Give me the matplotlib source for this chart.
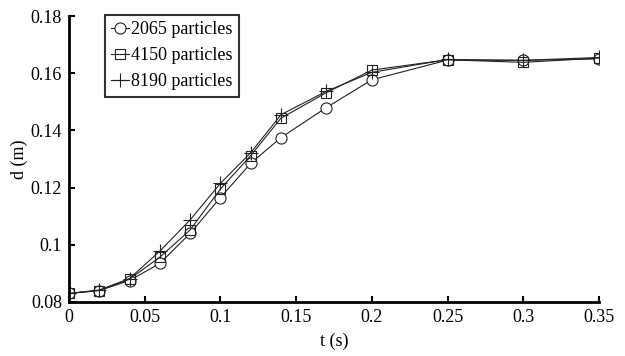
import matplotlib
matplotlib.use('Agg')
import matplotlib.pyplot as plt

t = [0, 0.02, 0.04, 0.06, 0.08, 0.1, 0.12, 0.14, 0.17, 0.2, 0.25, 0.3, 0.35]
d_2065 = [0.083, 0.084, 0.0875, 0.0935, 0.104, 0.1165, 0.1285, 0.1375, 0.148, 0.1577, 0.1646, 0.1645, 0.165]
d_4150 = [0.083, 0.084, 0.088, 0.0957, 0.1052, 0.1195, 0.1312, 0.1443, 0.1532, 0.1611, 0.1647, 0.1638, 0.1653]
d_8190 = [0.083, 0.0842, 0.0882, 0.0978, 0.1087, 0.1215, 0.1322, 0.1455, 0.1537, 0.1603, 0.1648, 0.1645, 0.1655]
labels = ['2065 particles', '4150 particles', '8190 particles']
xticks = [0, 0.05, 0.1, 0.15, 0.2, 0.25, 0.3, 0.35]
yticks = [0.08, 0.1, 0.12, 0.14, 0.16, 0.18]

plt.rcParams['font.family'] = ['Liberation Serif', 'DejaVu Serif']
plt.rcParams['font.size'] = 13

fig = plt.figure(figsize=(6.25, 3.56), dpi=100)
ax = fig.add_axes([0.1104, 0.1517, 0.848, 0.8033])

ax.plot(t, d_2065, '-', color='#222222', lw=0.8, marker='o', ms=8,
        mfc='white', mec='#222222', mew=0.8, label=labels[0])
ax.plot(t, d_4150, '-', color='#222222', lw=0.8, marker='s', ms=7,
        mfc='none', mec='#222222', mew=0.8, label=labels[1])
ax.plot(t, d_8190, '-', color='#222222', lw=0.8, marker='+', ms=10,
        mec='#222222', mew=0.8, label=labels[2])

ax.set_xlim(0, 0.35)
ax.set_ylim(0.08, 0.18)
ax.set_xticks(xticks)
ax.set_xticklabels(['0', '0.05', '0.1', '0.15', '0.2', '0.25', '0.3', '0.35'])
ax.set_yticks(yticks)
ax.set_yticklabels(['0.08', '0.1', '0.12', '0.14', '0.16', '0.18'])
ax.tick_params(direction='in', length=4, width=1.5, pad=5)
for s in ['top', 'right']:
    ax.spines[s].set_visible(False)
for s in ['left', 'bottom']:
    ax.spines[s].set_linewidth(2)

ax.set_xlabel('t (s)', labelpad=5)
ax.set_ylabel('d (m)', labelpad=2)

leg = ax.legend(loc='upper left', bbox_to_anchor=(105 / 625, 1 - 15 / 356),
                bbox_transform=fig.transFigure, frameon=True, fancybox=False,
                handlelength=1.0, handletextpad=0.1, borderpad=0.35,
                labelspacing=0.5, borderaxespad=0)
leg.get_frame().set_edgecolor('black')
leg.get_frame().set_linewidth(1.5)

fig.savefig('out.png', dpi=100)
